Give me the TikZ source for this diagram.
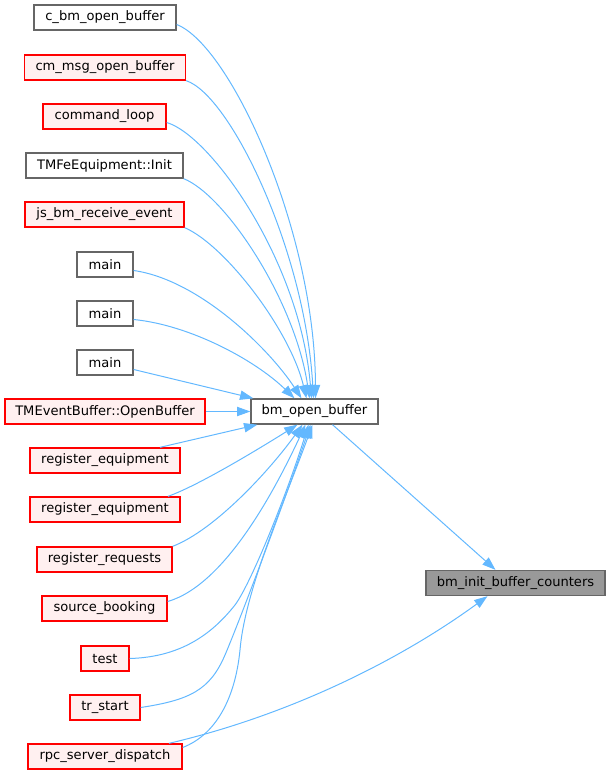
\documentclass[tikz,border=0pt]{standalone}
\usepackage{fontspec}
\setmainfont{DejaVu Sans}
\usetikzlibrary{arrows.meta,calc}
\definecolor{edgeblue}{HTML}{63B8FF}
\definecolor{redfill}{HTML}{FFF0F0}
\definecolor{boxgray}{HTML}{666666}
\definecolor{hitfill}{HTML}{999999}
\begin{document}
\begin{tikzpicture}[x=0.75pt,y=-0.75pt,
		fn/.style={draw=boxgray, fill=white, line width=1pt, minimum height=18.75pt, inner sep=0pt, font=\fontsize{9.8}{12}\selectfont},
		fnred/.style={fn, draw=red, fill=redfill},
		fnhit/.style={fn, fill=hitfill},
		call/.style={draw=edgeblue, line width=0.75pt, -{Triangle[length=10pt,width=7pt]}}]
			\useasboundingbox (0,0) rectangle (611,776);

			% callers
			\node[fn, minimum width=106.5pt] (cbm) at (105,17.5) {c\_bm\_open\_buffer};
			\node[fnred, minimum width=120.75pt] (cmmsg) at (105,67.5) {cm\_msg\_open\_buffer};
			\node[fnred, minimum width=92.25pt] (cmdloop) at (104.5,116.5) {command\_loop};
			\node[fn, minimum width=117.75pt] (tmfe) at (104.5,165.5) {TMFeEquipment::Init};
			\node[fnred, minimum width=119.25pt] (jsbm) at (104.5,214.5) {js\_bm\_receive\_event};
			\node[fn, minimum width=42pt] (maina) at (105,264.5) {main};
			\node[fn, minimum width=42pt] (mainb) at (105,313.5) {main};
			\node[fn, minimum width=42pt] (mainc) at (105,362.5) {main};
			\node[fnred, minimum width=150pt] (tmevent) at (105,411.5) {TMEventBuffer::OpenBuffer};
			\node[fnred, minimum width=112.5pt] (rega) at (105,460.5) {register\_equipment};
			\node[fnred, minimum width=112.5pt] (regb) at (105,509.5) {register\_equipment};
			\node[fnred, minimum width=101.25pt] (regreq) at (104.5,559.5) {register\_requests};
			\node[fnred, minimum width=93.75pt] (source) at (104.5,608.5) {source\_booking};
			\node[fnred, minimum width=36pt] (test) at (105,658.5) {test};
			\node[fnred, minimum width=52.5pt] (trstart) at (105,707.5) {tr\_start};
			\node[fnred, minimum width=115.5pt] (rpc) at (105,756.5) {rpc\_server\_dispatch};

			\node[fn, minimum width=95.25pt] (bmopen) at (314.5,411.5) {bm\_open\_buffer};
			\node[fnhit, minimum width=134.25pt] (bminit) at (515.5,583) {bm\_init\_buffer\_counters};

			% edges into bm_open_buffer from above
			\draw[call] ($(cbm.east)+(0,7)$) .. controls (230,45) and (315,230) .. ($(bmopen.north)+(1,0)$);
			\draw[call] (cmmsg.south east) .. controls (230,95) and (305,250) .. ($(bmopen.north)+(-1,0)$);
			\draw[call] ($(cmdloop.east)+(0,6)$) .. controls (210,135) and (300,260) .. ($(bmopen.north)+(-3,0)$);
			\draw[call] (tmfe.south east) .. controls (225,195) and (295,300) .. ($(bmopen.north)+(-5,0)$);
			\draw[call] (jsbm.south east) .. controls (225,245) and (290,330) .. ($(bmopen.north)+(-8,0)$);
			\draw[call] ($(maina.east)+(0,6)$) .. controls (200,280) and (270,350) .. ($(bmopen.north)+(-13,0)$);
			\draw[call] ($(mainb.east)+(0,6)$) .. controls (190,325) and (255,360) .. ($(bmopen.north)+(-20,0)$);
			\draw[call] ($(mainc.east)+(0,7)$) -- ($(bmopen.north west)+(3,0)$);
			\draw[call] (tmevent) -- (bmopen);

			% edges into bm_open_buffer from below
			\draw[call] ($(rega.north)+(55,0)$) -- ($(bmopen.south west)+(7,0)$);
			\draw[call] ($(regb.north)+(63,0)$) .. controls (200,485) and (265,445) .. ($(bmopen.south)+(-17,0)$);
			\draw[call] (regreq.north east) .. controls (215,530) and (270,470) .. ($(bmopen.south)+(-12,0)$);
			\draw[call] ($(source.east)+(0,-7)$) .. controls (225,585) and (275,490) .. ($(bmopen.south)+(-9,0)$);
			\draw[call] (test.east) .. controls (185,657) and (215,630) .. (235,605) .. controls (250,585) and (285,500) .. ($(bmopen.south)+(-6,0)$);
			\draw[call] (trstart.east) .. controls (190,700) and (210,690) .. (225,655) .. controls (240,620) and (285,500) .. ($(bmopen.south)+(-4,0)$);
			\draw[call] ($(rpc.east)+(0,-9)$) .. controls (215,735) and (235,700) .. (240,650) .. controls (245,590) and (285,500) .. ($(bmopen.south)+(-2,0)$);

			% edges into bm_init_buffer_counters
			\draw[call] ($(bmopen.south)+(18,0)$) -- ($(bminit.north)+(-20,0)$);
			\draw[call] ($(rpc.north)+(64,0)$) .. controls (290,715) and (400,660) .. ($(bminit.south)+(-28,0)$);
		\end{tikzpicture}
\end{document}
